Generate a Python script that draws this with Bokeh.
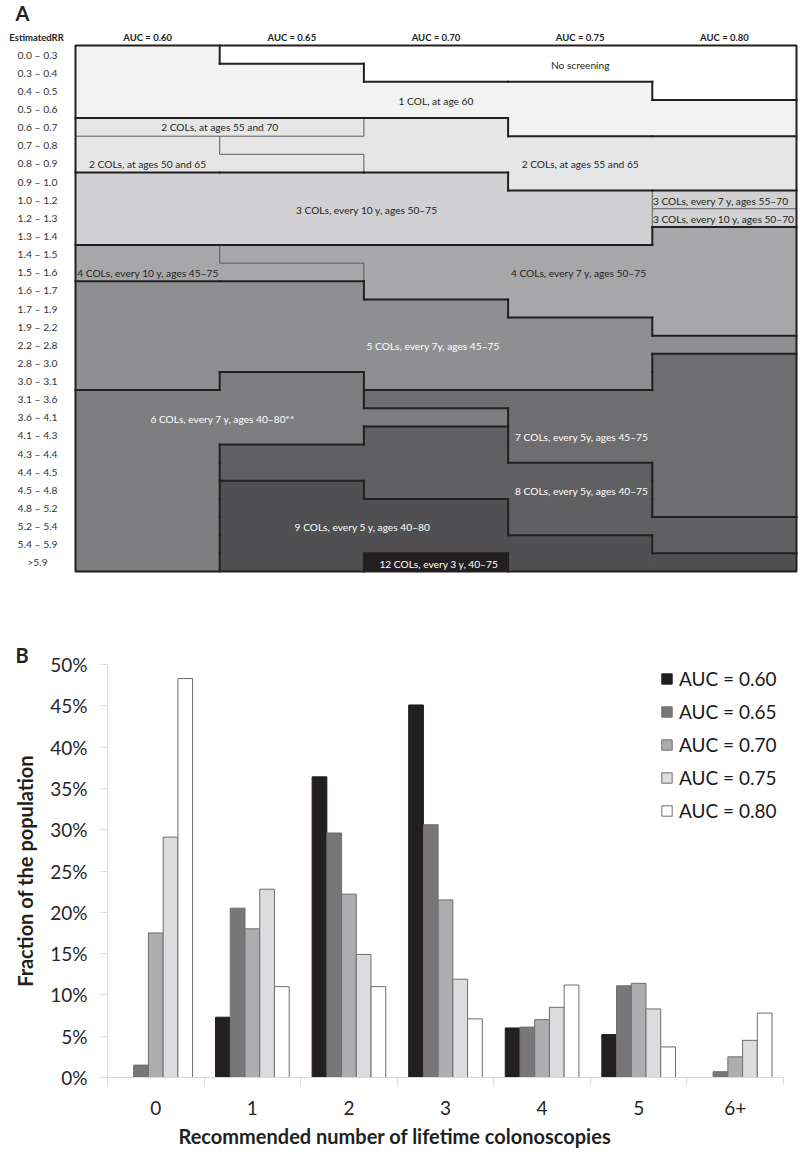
import math
from bokeh.plotting import figure
from bokeh.models import (Range1d, FixedTicker, SingleIntervalTicker,
                          PrintfTickFormatter, Title)
from bokeh.core.properties import value
from bokeh.embed import file_html
from bokeh.resources import INLINE

FONT = "Lato"
DARK = "#231f20"

# ---------------- Panel A data ----------------
auc_labels = ["AUC = 0.60", "AUC = 0.65", "AUC = 0.70", "AUC = 0.75", "AUC = 0.80"]
rr_bins = ["0.0 – 0.3", "0.3 – 0.4", "0.4 – 0.5", "0.5 – 0.6", "0.6 – 0.7",
           "0.7 – 0.8", "0.8 – 0.9", "0.9 – 1.0", "1.0 – 1.2", "1.2 – 1.3",
           "1.3 – 1.4", "1.4 – 1.5", "1.5 – 1.6", "1.6 – 1.7", "1.7 – 1.9",
           "1.9 – 2.2", "2.2 – 2.8", "2.8 – 3.0", "3.0 – 3.1", "3.1 – 3.6",
           "3.6 – 4.1", "4.1 – 4.3", "4.3 – 4.4", "4.4 – 4.5", "4.5 – 4.8",
           "4.8 – 5.2", "5.2 – 5.4", "5.4 – 5.9", ">5.9"]

# strategy per RR bin (run-length: strategy code, number of bins), per AUC column
col_060 = [("1", 4), ("2a", 1), ("2b", 2), ("3a", 4), ("4a", 2), ("5", 6), ("6", 10)]
col_065 = [("0", 1), ("1", 3), ("2a", 1), ("2c", 1), ("2b", 1), ("3a", 4), ("4b", 1),
           ("4a", 1), ("5", 5), ("6", 4), ("8", 2), ("9", 5)]
col_070 = [("0", 2), ("1", 2), ("2c", 3), ("3a", 4), ("4b", 3), ("5", 5), ("7", 1),
           ("6", 1), ("8", 4), ("9", 3), ("12", 1)]
col_075 = [("0", 2), ("1", 3), ("2c", 3), ("3a", 3), ("4b", 4), ("5", 4), ("7", 4),
           ("8", 4), ("9", 2)]
col_080 = [("0", 3), ("1", 2), ("2c", 3), ("3b", 1), ("3c", 1), ("4b", 6), ("5", 1),
           ("7", 9), ("8", 2), ("9", 1)]

# number of colonoscopies of each strategy
strategy_count = {"0": 0, "1": 1, "2a": 2, "2b": 2, "2c": 2, "3a": 3, "3b": 3, "3c": 3,
                  "4a": 4, "4b": 4, "5": 5, "6": 6, "7": 7, "8": 8, "9": 9, "12": 12}
strategy_text = {
    "0": "No screening",
    "1": "1 COL, at age 60",
    "2a": "2 COLs, at ages 55 and 70",
    "2b": "2 COLs, at ages 50 and 65",
    "2c": "2 COLs, at ages 55 and 65",
    "3a": "3 COLs, every 10 y, ages 50–75",
    "3b": "3 COLs, every 7 y, ages 55–70",
    "3c": "3 COLs, every 10 y, ages 50–70",
    "4a": "4 COLs, every 10 y, ages 45–75",
    "4b": "4 COLs, every 7 y, ages 50–75",
    "5": "5 COLs, every 7y, ages 45–75",
    "6": "6 COLs, every 7 y, ages 40–80**",
    "7": "7 COLs, every 5y, ages 45–75",
    "8": "8 COLs, every 5y, ages 40–75",
    "9": "9 COLs, every 5 y, ages 40–80",
    "12": "12 COLs, every 3 y, 40–75",
}
count_fill = {0: "#ffffff", 1: "#f2f2f2", 2: "#e6e6e7", 3: "#d1d1d3", 4: "#a7a7aa",
              5: "#8f8f92", 6: "#7e7e81", 7: "#6e6e70", 8: "#606062", 9: "#505052",
              12: "#231f20"}

# label placement (column units, bin units) and alignment
label_codes = ["0", "1", "2a", "2b", "2c", "3a", "3b", "3c", "4a", "4b", "5", "6", "7", "8", "9", "12"]
label_x = [3.5, 2.5, 1.0, 0.5, 3.5, 2.02, 4.004, 4.004, 0.012, 3.49, 2.48, 1.02, 3.51, 3.51, 1.99, 2.52]
label_y = [1.05, 3.05, 4.52, 6.55, 6.55, 9.05, 8.55, 9.55, 12.55, 12.55, 16.55, 20.58, 21.6, 24.57, 26.56, 28.57]
label_align = ["center", "center", "center", "center", "center", "center", "left", "left",
               "left", "center", "center", "center", "center", "center", "center", "center"]

# ---------------- Panel B data ----------------
n_cols_cats = ["0", "1", "2", "3", "4", "5", "6+"]
auc_060 = [0.0, 7.3, 36.4, 45.1, 6.0, 5.2, 0.0]
auc_065 = [1.5, 20.5, 29.6, 30.6, 6.1, 11.1, 0.7]
auc_070 = [17.5, 18.0, 22.2, 21.5, 7.0, 11.4, 2.5]
auc_075 = [29.1, 22.8, 14.9, 11.9, 8.5, 8.3, 4.5]
auc_080 = [48.3, 11.0, 11.0, 7.1, 11.2, 3.7, 7.8]
series = [auc_060, auc_065, auc_070, auc_075, auc_080]
series_colors = ["#231f20", "#77777a", "#adadb0", "#dcdcde", "#ffffff"]

W = 798

# ================= Panel A =================
HA = 584
px_col, px_row = 144.2, 18.138
grid_left, grid_top = 75, 45
xs = -grid_left / px_col
xe = xs + W / px_col
ys = -grid_top / px_row
ye = ys + HA / px_row

pA = figure(width=W, height=HA, x_range=Range1d(xs, xe), y_range=Range1d(ye, ys),
            x_axis_type=None, y_axis_type=None, min_border=0, outline_line_color=None,
            toolbar_location=None, output_backend="svg")

columns_runs = [col_060, col_065, col_070, col_075, col_080]
grid = []
for runs in columns_runs:
    cells = []
    for code, n in runs:
        cells += [code] * n
    grid.append(cells)
n_c = len(grid)
n_r = len(rr_bins)

# one block per run of equal strategy in a column
ql, qr, qt, qb, qf = [], [], [], [], []
for c, runs in enumerate(columns_runs):
    start = 0
    for code, n in runs:
        ql.append(c); qr.append(c + 1); qt.append(start); qb.append(start + n)
        qf.append(count_fill[strategy_count[code]])
        start += n
pA.quad(left=ql, right=qr, top=qt, bottom=qb, fill_color=qf, line_color=qf, line_width=1)

thick = dict(x0=[], y0=[], x1=[], y1=[])
thin = dict(x0=[], y0=[], x1=[], y1=[])
for c in range(n_c):
    for r in range(n_r):
        s = grid[c][r]
        if c + 1 < n_c and grid[c + 1][r] != s:
            d = thick if strategy_count[grid[c + 1][r]] != strategy_count[s] else thin
            d["x0"].append(c + 1); d["x1"].append(c + 1); d["y0"].append(r); d["y1"].append(r + 1)
        if r + 1 < n_r and grid[c][r + 1] != s:
            d = thick if strategy_count[grid[c][r + 1]] != strategy_count[s] else thin
            d["x0"].append(c); d["x1"].append(c + 1); d["y0"].append(r + 1); d["y1"].append(r + 1)
pA.segment(**thin, line_color="#5a5a5c", line_width=1)
pA.segment(**thick, line_color=DARK, line_width=2, line_cap="square")
pA.quad(left=0, right=n_c, top=0, bottom=n_r, fill_color=None, line_color=DARK, line_width=2)

# region labels
for align in ["center", "left"]:
    idx = [i for i, a in enumerate(label_align) if a == align]
    pA.text(x=[label_x[i] for i in idx], y=[label_y[i] for i in idx],
            text=[strategy_text[label_codes[i]] for i in idx],
            text_color=["#ffffff" if strategy_count[label_codes[i]] >= 5 else DARK for i in idx],
            text_font=value(FONT), text_font_size="10.2px", text_align=align,
            text_baseline="middle")

# column headers & row labels
pA.text(x=[c + 0.5 for c in range(n_c)], y=[-0.44] * n_c, text=auc_labels,
        text_font=value(FONT), text_font_size="9.5px", text_font_style="bold",
        text_color=DARK, text_align="center", text_baseline="middle")
pA.text(x=[-0.2635] * n_r, y=[r + 0.5 for r in range(n_r)], text=rr_bins,
        text_font=value(FONT), text_font_size="10.3px", text_color="#333333",
        text_align="center", text_baseline="middle")
pA.text(x=[-0.27], y=[-0.44], text=["EstimatedRR"], text_font=value(FONT),
        text_font_size="9.5px", text_font_style="bold", text_color=DARK,
        text_align="center", text_baseline="middle")
pA.text(x=[-0.416], y=[-1.77], text=["A"], text_font=value(FONT),
        text_font_size="20px", text_font_style="bold", text_color=DARK,
        text_align="left", text_baseline="middle")

# ================= Panel B =================
HB = 572
pB = figure(width=W, height=HB, x_range=Range1d(0, len(n_cols_cats)), y_range=Range1d(0, 50),
            min_border_left=107, min_border_right=15, min_border_top=80, min_border_bottom=79,
            outline_line_color=None, toolbar_location=None, output_backend="svg")
pB.grid.visible = False

bar_w = 0.1525
for k, (vals, col, lab) in enumerate(zip(series, series_colors, auc_labels)):
    xs_b = [i + 0.5 + (k - 2) * bar_w for i in range(len(vals))]
    pB.vbar(x=xs_b, top=vals, width=bar_w, bottom=0, fill_color=col,
            line_color="#6e6e6e" if k else DARK, line_width=1, legend_label=lab)

ax = pB.xaxis[0]
ax.ticker = FixedTicker(ticks=[i + 0.5 for i in range(len(n_cols_cats))],
                        minor_ticks=list(range(len(n_cols_cats) + 1)))
ax.major_label_overrides = {i + 0.5: c for i, c in enumerate(n_cols_cats)}
ax.major_tick_line_color = None
ax.major_tick_out = 0
ax.major_tick_in = 0
ax.minor_tick_line_color = "#d9d9d9"
ax.minor_tick_out = 7
ax.minor_tick_in = 0
ax.axis_line_color = "#d9d9d9"
ax.major_label_standoff = 16
ax.major_label_text_font = FONT
ax.major_label_text_font_size = "19px"
ax.major_label_text_color = "#262626"

ay = pB.yaxis[0]
ay.ticker = SingleIntervalTicker(interval=5, num_minor_ticks=0)
ay.formatter = PrintfTickFormatter(format="%d%%")
ay.axis_line_color = "#d9d9d9"
ay.major_tick_line_color = "#d9d9d9"
ay.major_tick_out = 7
ay.major_tick_in = 0
ay.minor_tick_line_color = None
ay.major_label_standoff = 13
ay.major_label_text_font = FONT
ay.major_label_text_font_size = "19px"
ay.major_label_text_color = "#262626"
ay.axis_label = "Fraction of the population"
ay.axis_label_text_font = FONT
ay.axis_label_text_font_size = "20px"
ay.axis_label_text_font_style = "bold"
ay.axis_label_text_color = DARK
ay.axis_label_standoff = 10

pB.add_layout(Title(text="Recommended number of lifetime colonoscopies", align="left",
                    offset=71, text_font=FONT, text_font_size="20px",
                    text_font_style="bold", text_color=DARK, standoff=8), "below")
pB.add_layout(Title(text="B", align="left", offset=-92, text_font=FONT,
                    text_font_size="20px", text_font_style="bold", text_color=DARK,
                    standoff=-4), "above")

lg = pB.legend[0]
lg.location = (553, 255)
lg.border_line_color = None
lg.background_fill_alpha = 0
lg.padding = 0
lg.margin = 0
lg.spacing = 10
lg.glyph_width = 13
lg.glyph_height = 13
lg.label_height = 22
lg.label_standoff = 6
lg.label_text_font = FONT
lg.label_text_font_size = "19px"
lg.label_text_color = "#1a1a1a"

open("out.html", "w").write(file_html([pA, pB], INLINE))
